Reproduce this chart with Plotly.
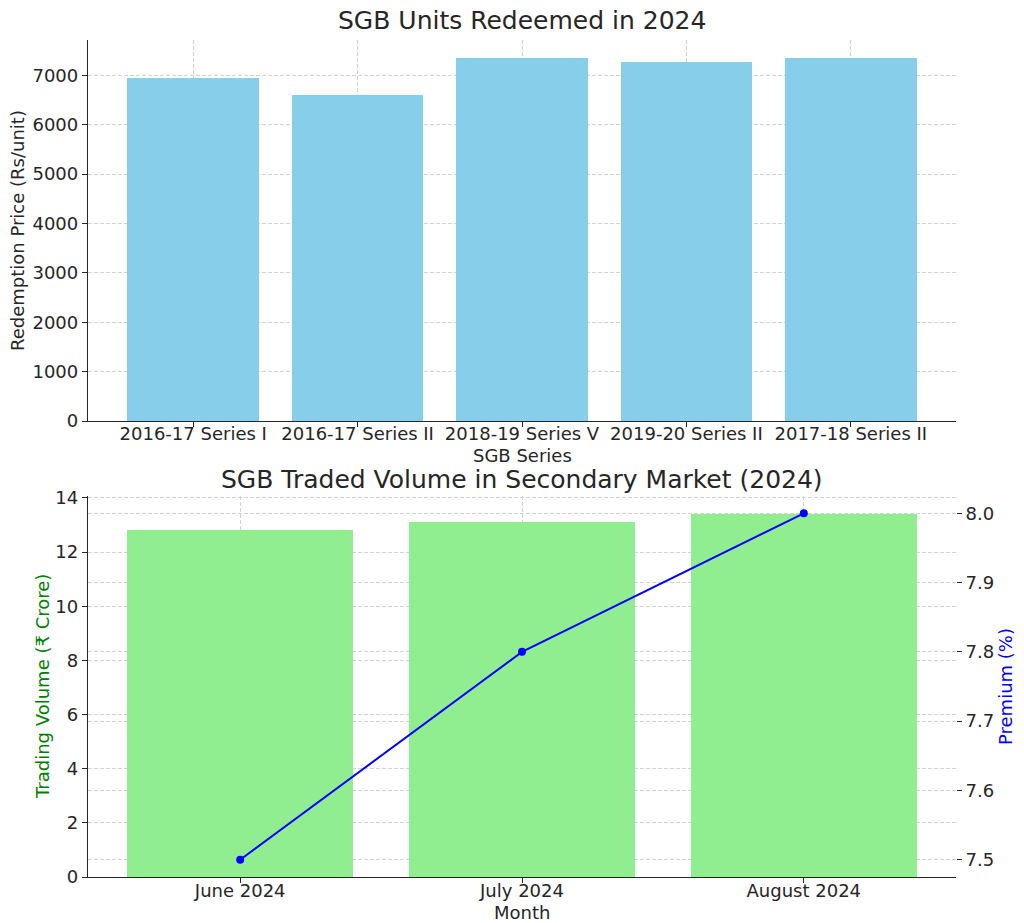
import plotly.graph_objects as go

series = ["2016-17 Series I", "2016-17 Series II", "2018-19 Series V", "2019-20 Series II", "2017-18 Series II"]
redemption_price = [6938, 6601, 7347, 7262, 7340]

months = ["June 2024", "July 2024", "August 2024"]
trading_volume = [12.8, 13.1, 13.4]
premium = [7.5, 7.8, 8.0]

FONT = "DejaVu Sans"
GRID = "#d2d2d2"
TXT = "#262626"

fig = go.Figure()
fig.add_trace(go.Bar(x=series, y=redemption_price, marker=dict(color="#87CEEB", line=dict(width=0)),
                     width=0.8, xaxis="x", yaxis="y", showlegend=False))
fig.add_trace(go.Bar(x=months, y=trading_volume, marker=dict(color="#90EE90", line=dict(width=0)),
                     width=0.8, xaxis="x2", yaxis="y2", showlegend=False))
fig.add_trace(go.Scatter(x=months, y=premium, mode="lines+markers", line=dict(color="blue", width=2),
                         marker=dict(color="blue", size=8), xaxis="x2", yaxis="y3", showlegend=False))

axis_common = dict(linecolor=TXT, linewidth=1.3, ticks="outside", ticklen=5, automargin=False,
                   tickcolor=TXT, tickfont=dict(family=FONT, size=18, color=TXT),
                   showgrid=True, gridcolor=GRID, griddash="4px,2px", gridwidth=1, zeroline=False)

xd = [88/1024, 956/1024]
xc = (xd[0] + xd[1]) / 2


def ann(text, x, y, size=18, color=TXT, angle=0):
    return dict(text=text, x=x/1024, y=1-y/923, xref="paper", yref="paper", showarrow=False,
                xanchor="center", yanchor="middle", textangle=angle,
                font=dict(family=FONT, size=size, color=color))


fig.update_layout(
    width=1024, height=923, margin=dict(l=0, r=0, t=0, b=0),
    plot_bgcolor="white", paper_bgcolor="white", bargap=0,
    font=dict(family=FONT, color=TXT),
    xaxis=dict(domain=xd, anchor="y", range=[-0.64, 4.64], tickangle=0, showline=True,
               ticklabelstandoff=-9, **axis_common),
    yaxis=dict(domain=[1-421/923, 1-40/923], anchor="x", range=[0, 7714], showline=True,
               tickvals=[0, 1000, 2000, 3000, 4000, 5000, 6000, 7000], **axis_common),
    xaxis2=dict(domain=xd, anchor="y2", range=[-0.54, 2.54], tickangle=0, showline=True,
                ticklabelstandoff=-8, **axis_common),
    yaxis2=dict(domain=[1-877/923, 1-496/923], anchor="x2", range=[0, 14.07], showline=True,
                tickvals=[0, 2, 4, 6, 8, 10, 12, 14], **axis_common),
    yaxis3=dict(overlaying="y2", side="right", anchor="x2", range=[7.475, 8.025], showline=False,
                tickvals=[7.5, 7.6, 7.7, 7.8, 7.9, 8.0], ticktext=["7.5", "7.6", "7.7", "7.8", "7.9", "8.0"],
                **axis_common),
    annotations=[
        ann("SGB Units Redeemed in 2024", xc*1024, 20, size=25),
        ann("SGB Traded Volume in Secondary Market (2024)", xc*1024, 480, size=25),
        ann("SGB Series", xc*1024, 455),
        ann("Month", xc*1024, 912),
        ann("Redemption Price (Rs/unit)", 18, 231, angle=-90),
        ann("Trading Volume (₹ Crore)", 42, 687, color="green", angle=-90),
        ann("Premium (%)", 1005, 687, color="blue", angle=-90),
    ],
)

fig.write_html("out.html")
